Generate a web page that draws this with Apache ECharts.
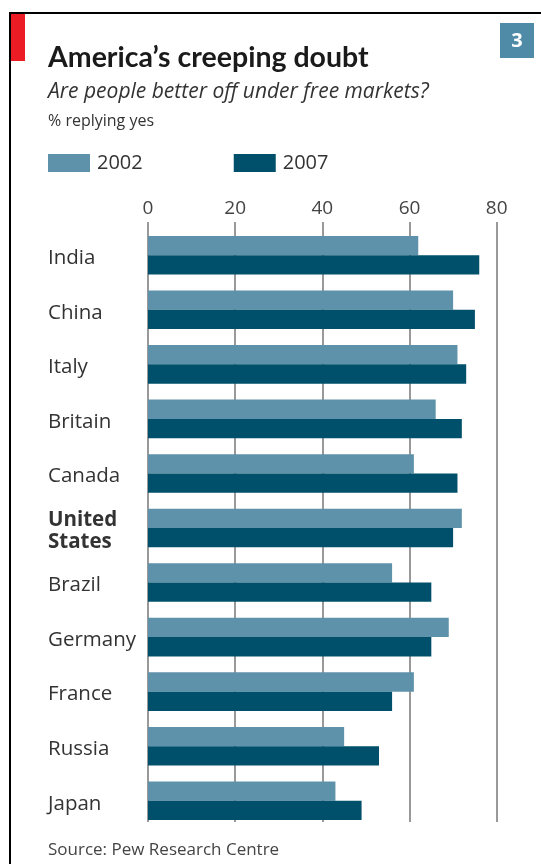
<!DOCTYPE html>
<html>
<head>
<meta charset="utf-8">
<script src="https://cdn.jsdelivr.net/npm/echarts@6/dist/echarts.min.js"></script>
<style>
html,body{margin:0;padding:0;background:#fff;}
#chart{width:541px;height:864px;}
</style>
</head>
<body>
<div id="chart"></div>
<script>
var categories = ['India','China','Italy','Britain','Canada','United States','Brazil','Germany','France','Russia','Japan'];
var values2002 = [62,70,71,66,61,72,56,69,61,45,43];
var values2007 = [76,75,73,72,71,70,65,65,56,53,49];
var seriesNames = ['2002','2007'];
var xTicks = [0,20,40,60,80];

var FONT = "'Open Sans',sans-serif";
var TFONT = "Lato,'Open Sans',sans-serif";
var chart = echarts.init(document.getElementById('chart'), null, {renderer:'canvas'});

var option = {
  animation: false,
  backgroundColor: '#fff',
  title: [
    {text: 'America\u2019s creeping doubt', left: 43, top: 38,
     textStyle: {fontFamily: TFONT, fontWeight: 'bold', fontSize: 28.5, color: '#1a1a1a'}},
    {text: 'Are people better off under free markets?', left: 43, top: 77,
     textStyle: {fontFamily: FONT, fontStyle: 'italic', fontWeight: 'normal', fontSize: 21, color: '#333'}},
    {text: '% replying yes', left: 43, top: 108,
     textStyle: {fontFamily: FONT, fontWeight: 'normal', fontSize: 16, color: '#333'}},
    {text: 'Source: Pew Research Centre', left: 43, top: 837,
     textStyle: {fontFamily: FONT, fontWeight: 'normal', fontSize: 17, color: '#444'}}
  ],
  legend: {
    left: 43, top: 148, itemWidth: 42, itemHeight: 18, itemGap: 91,
    icon: 'rect',
    textStyle: {fontFamily: FONT, fontSize: 20, color: '#333', padding: [0,0,0,2]},
    data: seriesNames
  },
  graphic: [
    {type: 'rect', shape: {x: 9, y: 12, width: 532, height: 2}, style: {fill: '#000'}, silent: true},
    {type: 'rect', shape: {x: 9, y: 12, width: 2, height: 852}, style: {fill: '#000'}, silent: true},
    {type: 'rect', shape: {x: 11, y: 14, width: 14, height: 47}, style: {fill: '#ec1c24'}, silent: true},
    {type: 'rect', shape: {x: 500, y: 23, width: 34, height: 35}, style: {fill: '#4f8ba7'}, silent: true},
    {type: 'text', x: 517, y: 41, style: {text: '3', fill: '#fff', font: "bold 20px 'Open Sans',sans-serif", textAlign: 'center', textVerticalAlign: 'middle'}, silent: true}
  ],
  grid: [
    {left: 148, right: 44.3, top: 222, height: 600, containLabel: false},
    {left: 148, right: 44.3, top: 228, height: 600, containLabel: false}
  ],
  xAxis: [
    {gridIndex: 0, type: 'value', position: 'top', min: 0, max: 80, interval: 20,
     axisLine: {show: false}, axisTick: {show: false},
     axisLabel: {margin: 4, fontFamily: FONT, fontSize: 19, color: '#444',
       formatter: function(v){ return xTicks.indexOf(v) >= 0 ? String(v) : ''; }},
     splitLine: {show: true, lineStyle: {color: '#999', width: 2}}},
    {gridIndex: 1, type: 'value', min: 0, max: 80, interval: 20, show: false}
  ],
  yAxis: [
    {gridIndex: 0, type: 'category', data: categories, show: false},
    {gridIndex: 1, type: 'category', data: categories, inverse: true,
     axisLine: {show: false}, axisTick: {show: false}, splitLine: {show: false},
     axisLabel: {align: 'left', margin: 100, fontFamily: FONT, fontSize: 20.5, color: '#333',
       padding: [6,0,0,0],
       formatter: function(v){ return v === 'United States' ? '{b|United}\n{b|States}' : v; },
       rich: {b: {fontFamily: FONT, fontWeight: 'bold', fontSize: 20.5, color: '#333', lineHeight: 22}}}}
  ],
  series: [
    {name: seriesNames[0], type: 'bar', xAxisIndex: 1, yAxisIndex: 1, data: values2002,
     barWidth: 19.3, barGap: '0%', itemStyle: {color: '#5e92aa'}},
    {name: seriesNames[1], type: 'bar', xAxisIndex: 1, yAxisIndex: 1, data: values2007,
     barWidth: 19.3, barGap: '0%', itemStyle: {color: '#00506b'}}
  ]
};
chart.setOption(option);
</script>
</body>
</html>
